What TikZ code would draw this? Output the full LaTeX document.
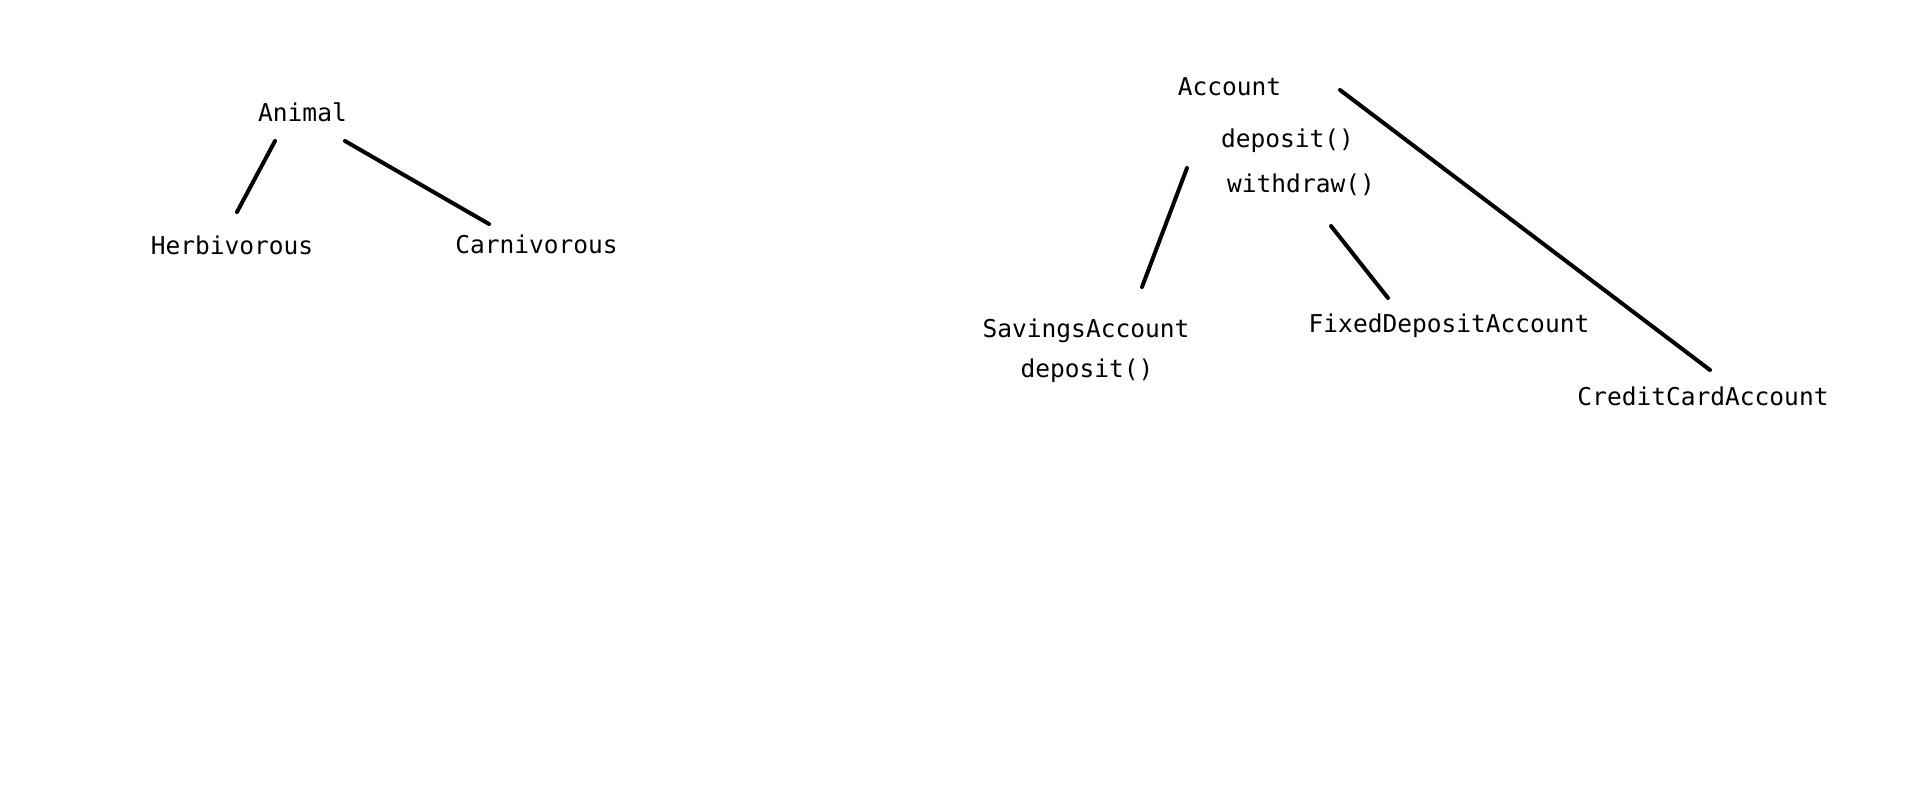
\documentclass[tikz,border=0pt]{standalone}
\usepackage{fontspec}
\setmonofont{DejaVu Sans Mono}
\usepackage{tikz}
\usetikzlibrary{positioning}

\begin{document}
\begin{tikzpicture}[x=0.75pt,y=-0.75pt,
    lbl/.style={anchor=base,inner sep=0pt,font=\fontsize{18.4}{22}\selectfont\ttfamily},
    link/.style={line width=3pt,line cap=round}]
  \useasboundingbox (0,0) rectangle (1914,796);
  % left tree
  \node[lbl] (animal) at (302.5,121) {Animal};
  \node[lbl] (herb) at (232,254) {Herbivorous};
  \node[lbl] (carn) at (536.5,253) {Carnivorous};
  \draw[link] ([shift={(-27.5,20)}]animal.base) -- ([shift={(5,-42)}]herb.base);
  \draw[link] ([shift={(42.5,20)}]animal.base) -- ([shift={(-47.5,-29)}]carn.base);
  % right tree
  \node[lbl] (acct) at (1229.5,95) {Account};
  \node[lbl] (adep) at (1287.5,147) {deposit()};
  \node[lbl] (awd) at (1301,192) {withdraw()};
  \node[lbl] (sav) at (1086,337) {SavingsAccount};
  \node[lbl] (sdep) at (1087,377) {deposit()};
  \node[lbl] (fix) at (1449,332) {FixedDepositAccount};
  \node[lbl] (cred) at (1703,405) {CreditCardAccount};
  \draw[link] ([shift={(-42.5,73)}]acct.base) -- ([shift={(56,-50)}]sav.base);
  \draw[link] ([shift={(101.5,131)}]acct.base) -- ([shift={(-61,-34)}]fix.base);
  \draw[link] ([shift={(110.5,-5)}]acct.base) -- ([shift={(7,-35)}]cred.base);
\end{tikzpicture}
\end{document}
